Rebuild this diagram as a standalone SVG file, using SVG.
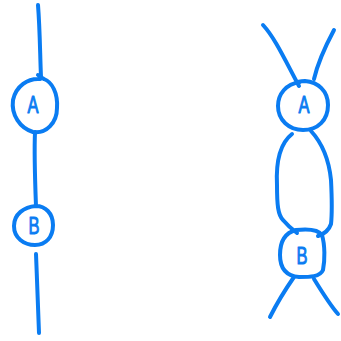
<svg xmlns="http://www.w3.org/2000/svg" width="341" height="341" viewBox="0 0 341 341">
  <style>
    .ink { fill: none; stroke: #0a7cf2; stroke-width: 4; stroke-linecap: round; stroke-linejoin: round; }
    .lbl { font-family: "Liberation Sans", "DejaVu Sans", sans-serif; font-size: 22px; fill: #0a7cf2; stroke: #0a7cf2; stroke-width: 0.9; stroke-linejoin: round; text-anchor: middle; }
  </style>
  <rect width="341" height="341" fill="#ffffff"/>

  <!-- connectors -->
  <g id="connectors">
    <!-- left chain -->
    <path class="ink" d="M38 5 C40 30 40 55 41 77"/>
    <path class="ink" d="M35 132 C34 155 35 180 36 206"/>
    <path class="ink" d="M36 254 C37 280 38 305 39 333"/>
    <!-- right: crossing lines into A -->
    <path class="ink" d="M263 25 C275 38 285 60 299 86"/>
    <path class="ink" d="M334 30 C326 45 318 62 314 79"/>
    <!-- right: double edge between A and B -->
    <path class="ink" d="M292 134 C278 145 276 165 277 185 C277 205 278 215 283 220 C288 226 293 230 297 233"/>
    <path class="ink" d="M311 131 C322 143 329 160 331 180 C332 200 332 215 331 224 C329 230 324 234 318 236"/>
    <!-- right: crossing lines out of B -->
    <path class="ink" d="M294 277 C285 290 276 305 270 317"/>
    <path class="ink" d="M314 279 C322 292 330 305 338 314"/>
  </g>

  <!-- left A -->
  <g id="nodeA-left">
    <path class="ink" d="M40 79 C28 78 16 86 13 100 C11 115 20 128 33 132 C46 134 57 123 57 108 C58 93 52 82 44 79 C41 78 40 76 38 75"/>
    <text class="lbl" transform="translate(33 113) scale(0.75 1.12)">A</text>
  </g>

  <!-- left B -->
  <g id="nodeB-left">
    <path class="ink" d="M36 206 C24 207 14 214 14 226 C14 238 24 245 35 245 C46 245 53 237 53 225 C53 213 45 206 36 206"/>
    <text class="lbl" transform="translate(34 234) scale(0.75 1.05)">B</text>
  </g>

  <!-- right A -->
  <g id="nodeA-right">
    <path class="ink" d="M300 82 C286 84 278 94 278 106 C278 120 289 130 303 130 C318 130 328 120 328 105 C328 91 318 82 305 81 C302 81 298 81 296 83"/>
    <text class="lbl" transform="translate(304 113) scale(0.75 1.12)">A</text>
  </g>

  <!-- right B -->
  <g id="nodeB-right">
    <path class="ink" d="M296 230 C284 233 280 243 280 255 C280 269 287 276 299 277 C310 277 320 277 323 270 C325 260 325 245 322 235 C318 229 305 229 296 230"/>
    <text class="lbl" transform="translate(302 264) scale(0.75 1.12)">B</text>
  </g>
</svg>
